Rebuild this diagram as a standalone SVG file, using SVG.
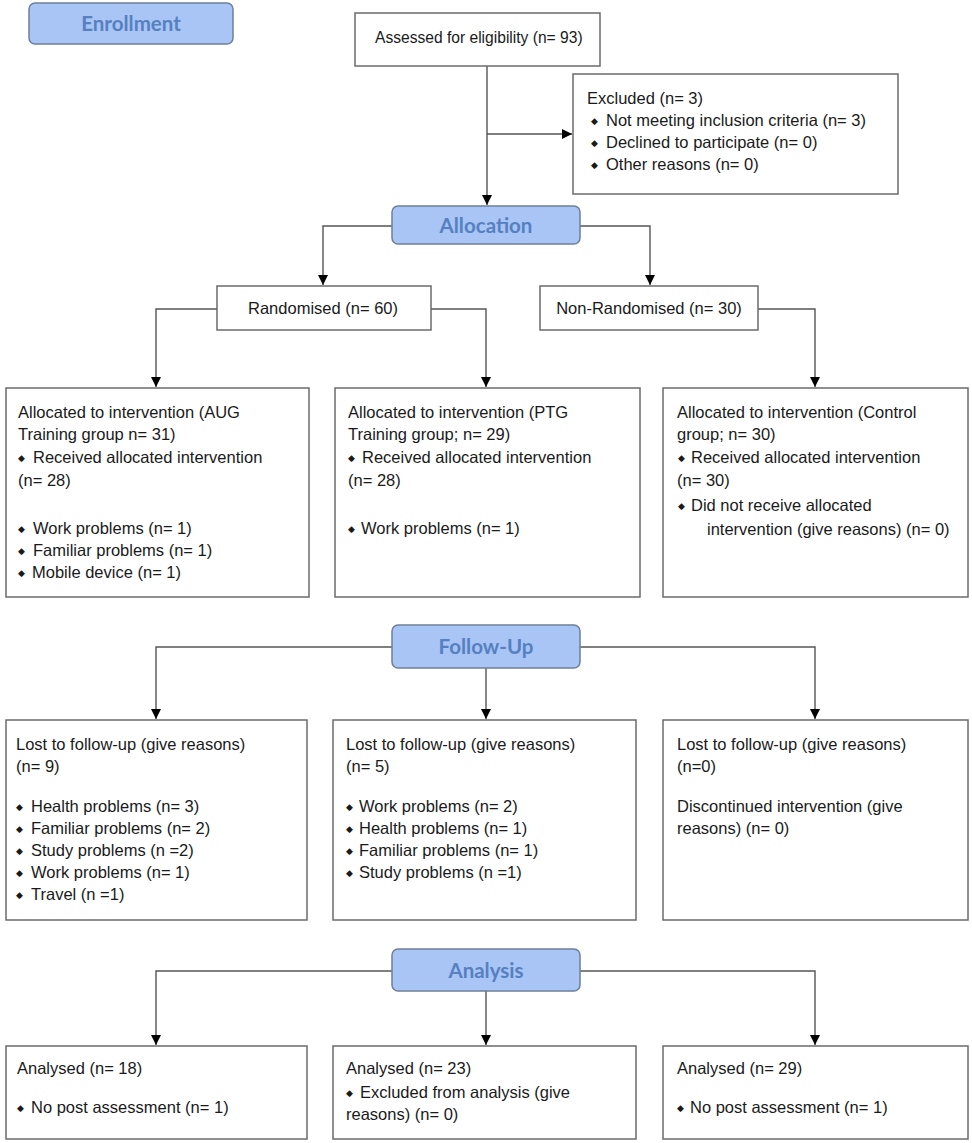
<svg xmlns="http://www.w3.org/2000/svg" width="972" height="1143" viewBox="0 0 972 1143">
<style>
.box{fill:#fff;stroke:#6b6b6b;stroke-width:1.5}
.hdr{fill:#a8c5f5;stroke:#6e7f98;stroke-width:1.5}
.ht{font-family:Lato,"Open Sans",sans-serif;font-weight:bold;font-size:20.5px;fill:#5680c0;text-anchor:middle}
.t{font-family:"Liberation Sans",Arial,sans-serif;font-size:16.5px;fill:#1a1a1a}
.b{font-size:9px;baseline-shift:2px}
.ln{fill:none;stroke:#555;stroke-width:1.4}
</style>
<defs>
<marker id="ah" viewBox="0 0 10 10" refX="10" refY="5" markerWidth="10" markerHeight="10" markerUnits="userSpaceOnUse" orient="auto">
<path d="M0,0 L10,5 L0,10 z" fill="#000"/>
</marker>
</defs>
<rect width="972" height="1143" fill="#fff"/>

<g id="connectors">
<path class="ln" d="M487,66 V205" marker-end="url(#ah)"/>
<path class="ln" d="M487,134 H572" marker-end="url(#ah)"/>
<path class="ln" d="M392,226 H323 V285" marker-end="url(#ah)"/>
<path class="ln" d="M580,226 H650 V285" marker-end="url(#ah)"/>
<path class="ln" d="M217,309 H156 V387" marker-end="url(#ah)"/>
<path class="ln" d="M431,309 H486 V387" marker-end="url(#ah)"/>
<path class="ln" d="M758,309 H815 V387" marker-end="url(#ah)"/>
<path class="ln" d="M392,647 H156 V719" marker-end="url(#ah)"/>
<path class="ln" d="M486,668 V719" marker-end="url(#ah)"/>
<path class="ln" d="M580,647 H815 V719" marker-end="url(#ah)"/>
<path class="ln" d="M392,971 H156 V1045" marker-end="url(#ah)"/>
<path class="ln" d="M486,991 V1045" marker-end="url(#ah)"/>
<path class="ln" d="M580,971 H815 V1045" marker-end="url(#ah)"/>
</g>

<g id="enrollment">
<rect class="hdr" x="29" y="3" width="204" height="41" rx="6"/>
<text class="ht" x="131" y="31">Enrollment</text>
</g>

<g id="assessed">
<rect class="box" x="355" y="13" width="245" height="53"/>
<text class="t" x="375" y="43" style="font-size:15.6px">Assessed for eligibility (n= 93)</text>
</g>

<g id="excluded">
<rect class="box" x="573" y="74" width="325" height="120"/>
<text class="t" x="587" y="104">Excluded (n= 3)</text>
<text class="t" x="591" y="126"><tspan class="b">◆</tspan><tspan x="606">Not meeting inclusion criteria (n= 3)</tspan></text>
<text class="t" x="591" y="148"><tspan class="b">◆</tspan><tspan x="606">Declined to participate (n= 0)</tspan></text>
<text class="t" x="591" y="170"><tspan class="b">◆</tspan><tspan x="606">Other reasons (n= 0)</tspan></text>
</g>

<g id="allocation">
<rect class="hdr" x="392" y="206" width="188" height="38" rx="6"/>
<text class="ht" x="486" y="233">Allocation</text>
</g>

<g id="randomised">
<rect class="box" x="217" y="286" width="214" height="44"/>
<text class="t" x="323" y="314" text-anchor="middle">Randomised (n= 60)</text>
</g>

<g id="nonrandomised">
<rect class="box" x="540" y="286" width="218" height="44"/>
<text class="t" x="649" y="314" text-anchor="middle">Non-Randomised (n= 30)</text>
</g>

<g id="alloc-aug">
<rect class="box" x="6" y="388" width="303" height="209"/>
<text class="t" x="18" y="418">Allocated to intervention (AUG</text>
<text class="t" x="18" y="440">Training group n= 31)</text>
<text class="t" x="18" y="463"><tspan class="b">◆</tspan><tspan x="33">Received allocated intervention</tspan></text>
<text class="t" x="18" y="486">(n= 28)</text>
<text class="t" x="18" y="534"><tspan class="b">◆</tspan><tspan x="33">Work problems (n= 1)</tspan></text>
<text class="t" x="18" y="556"><tspan class="b">◆</tspan><tspan x="33">Familiar problems (n= 1)</tspan></text>
<text class="t" x="18" y="578"><tspan class="b">◆</tspan><tspan x="32">Mobile device (n= 1)</tspan></text>
</g>

<g id="alloc-ptg">
<rect class="box" x="335" y="388" width="305" height="209"/>
<text class="t" x="348" y="418">Allocated to intervention (PTG</text>
<text class="t" x="348" y="440">Training group; n= 29)</text>
<text class="t" x="348" y="463"><tspan class="b">◆</tspan><tspan x="362">Received allocated intervention</tspan></text>
<text class="t" x="348" y="486">(n= 28)</text>
<text class="t" x="348" y="534"><tspan class="b">◆</tspan><tspan x="361">Work problems  (n= 1)</tspan></text>
</g>

<g id="alloc-control">
<rect class="box" x="663" y="388" width="305" height="209"/>
<text class="t" x="677" y="418">Allocated to intervention (Control</text>
<text class="t" x="677" y="440">group; n= 30)</text>
<text class="t" x="678" y="463"><tspan class="b">◆</tspan><tspan x="691">Received allocated intervention</tspan></text>
<text class="t" x="677" y="486">(n= 30)</text>
<text class="t" x="678" y="511"><tspan class="b">◆</tspan><tspan x="691">Did not receive allocated</tspan></text>
<text class="t" x="707" y="535">intervention (give reasons) (n= 0)</text>
</g>

<g id="followup">
<rect class="hdr" x="392" y="625" width="188" height="43" rx="6"/>
<text class="ht" x="486" y="654">Follow-Up</text>
</g>

<g id="fu-aug">
<rect class="box" x="6" y="720" width="301" height="200"/>
<text class="t" x="16" y="750">Lost to follow-up (give reasons)</text>
<text class="t" x="16" y="772">(n= 9)</text>
<text class="t" x="16" y="812"><tspan class="b">◆</tspan><tspan x="31">Health problems (n= 3)</tspan></text>
<text class="t" x="16" y="834"><tspan class="b">◆</tspan><tspan x="31">Familiar problems (n= 2)</tspan></text>
<text class="t" x="16" y="856"><tspan class="b">◆</tspan><tspan x="31">Study problems (n =2)</tspan></text>
<text class="t" x="16" y="878"><tspan class="b">◆</tspan><tspan x="31">Work problems (n= 1)</tspan></text>
<text class="t" x="16" y="900"><tspan class="b">◆</tspan><tspan x="31">Travel (n =1)</tspan></text>
</g>

<g id="fu-ptg">
<rect class="box" x="333" y="720" width="303" height="200"/>
<text class="t" x="346" y="750">Lost to follow-up (give reasons)</text>
<text class="t" x="346" y="772">(n= 5)</text>
<text class="t" x="346" y="812"><tspan class="b">◆</tspan><tspan x="359">Work problems (n= 2)</tspan></text>
<text class="t" x="346" y="834"><tspan class="b">◆</tspan><tspan x="359">Health problems (n= 1)</tspan></text>
<text class="t" x="346" y="856"><tspan class="b">◆</tspan><tspan x="359">Familiar problems (n= 1)</tspan></text>
<text class="t" x="346" y="878"><tspan class="b">◆</tspan><tspan x="359">Study problems (n =1)</tspan></text>
</g>

<g id="fu-control">
<rect class="box" x="663" y="720" width="305" height="200"/>
<text class="t" x="677" y="750">Lost to follow-up (give reasons)</text>
<text class="t" x="677" y="772">(n=0)</text>
<text class="t" x="677" y="812">Discontinued intervention (give</text>
<text class="t" x="677" y="834">reasons) (n= 0)</text>
</g>

<g id="analysis">
<rect class="hdr" x="392" y="949" width="188" height="42" rx="6"/>
<text class="ht" x="486" y="978">Analysis</text>
</g>

<g id="an-aug">
<rect class="box" x="6" y="1046" width="301" height="93"/>
<text class="t" x="17" y="1074">Analysed (n= 18)</text>
<text class="t" x="17" y="1113"><tspan class="b">◆</tspan><tspan x="31">No post assessment (n= 1)</tspan></text>
</g>

<g id="an-ptg">
<rect class="box" x="333" y="1046" width="303" height="93"/>
<text class="t" x="346" y="1074">Analysed (n= 23)</text>
<text class="t" x="346" y="1098"><tspan class="b">◆</tspan><tspan x="360">Excluded from analysis (give</tspan></text>
<text class="t" x="346" y="1120">reasons) (n= 0)</text>
</g>

<g id="an-control">
<rect class="box" x="663" y="1046" width="305" height="93"/>
<text class="t" x="677" y="1074">Analysed (n= 29)</text>
<text class="t" x="677" y="1113"><tspan class="b">◆</tspan><tspan x="690">No post assessment (n= 1)</tspan></text>
</g>
</svg>
